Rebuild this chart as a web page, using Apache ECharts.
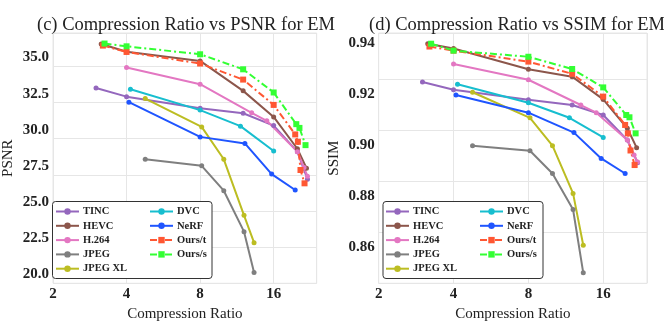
<!DOCTYPE html>
<html><head><meta charset="utf-8">
<script src="https://cdn.jsdelivr.net/npm/echarts@6/dist/echarts.min.js"></script>
<style>html,body{margin:0;padding:0;background:#fff}#c{width:664px;height:332px}</style>
</head><body><div id="c"></div>
<script>
// ---- data ----
const methods = ['TINC','HEVC','H.264','JPEG','JPEG XL','DVC','NeRF','Ours/t','Ours/s'];
const xTINC  = [3.0, 4.0, 8.0, 12.0, 16.0, 20.0, 22.0];
const pTINC  = [32.9, 32.3, 31.5, 31.15, 30.3, 28.5, 26.6];
const sTINC  = [0.9248, 0.9218, 0.9179, 0.9158, 0.9119, 0.9021, 0.8932];
const xHEVC  = [3.15, 4.0, 8.0, 12.0, 16.0, 20.0, 21.8];
const pHEVC  = [35.94, 35.4, 34.77, 32.7, 30.9, 28.7, 27.35];
const sHEVC  = [0.9398, 0.9379, 0.9298, 0.9269, 0.9180, 0.9067, 0.8991];
const xH264  = [4.0, 8.0, 13.0, 15.0, 20.0, 21.3, 22.0];
const pH264  = [34.31, 33.16, 31.18, 30.63, 28.5, 27.4, 26.8];
const sH264  = [0.9319, 0.9257, 0.9158, 0.9128, 0.9021, 0.8962, 0.8935];
const xJPEG  = [4.77, 8.12, 10.0, 12.1, 13.3];
const pJPEG  = [27.97, 27.52, 25.8, 22.97, 20.14];
const sJPEG  = [0.8999, 0.8979, 0.8890, 0.8749, 0.8501];
const xJXL   = [4.77, 8.12, 10.0, 12.1, 13.3];
const pJXL   = [32.17, 30.21, 27.97, 24.1, 22.21];
const sJXL   = [0.9208, 0.9108, 0.8999, 0.8812, 0.8609];
const xDVC   = [4.15, 8.0, 11.7, 16.0];
const pDVC   = [32.81, 31.37, 30.26, 28.54];
const sDVC   = [0.9239, 0.9167, 0.9108, 0.9031];
const xNeRF  = [4.09, 8.0, 12.2, 15.7, 19.6];
const pNeRF  = [31.92, 29.52, 29.07, 26.95, 25.85];
const sNeRF  = [0.9197, 0.9128, 0.9050, 0.8949, 0.8890];
const xOursT = [3.2, 4.0, 8.0, 12.0, 16.0, 19.6, 20.1, 20.6, 21.4];
const pOursT = [35.83, 35.39, 34.59, 33.48, 31.73, 29.69, 29.18, 27.23, 26.31];
const sOursT = [0.9387, 0.9371, 0.9328, 0.9280, 0.9191, 0.9080, 0.9047, 0.8980, 0.8923];
const xOursS = [3.25, 4.0, 8.0, 12.0, 16.0, 19.8, 20.4, 21.6];
const pOursS = [35.97, 35.78, 35.23, 34.19, 32.59, 30.4, 30.14, 28.95];
const sOursS = [0.9398, 0.9371, 0.9347, 0.9299, 0.9227, 0.9119, 0.9110, 0.9047];
const xTicks = [2, 4, 8, 16];
const psnrTicks = [20.0, 22.5, 25.0, 27.5, 30.0, 32.5, 35.0];
const ssimTicks = [0.86, 0.88, 0.90, 0.92, 0.94];

const X = [xTINC,xHEVC,xH264,xJPEG,xJXL,xDVC,xNeRF,xOursT,xOursS];
const P = [pTINC,pHEVC,pH264,pJPEG,pJXL,pDVC,pNeRF,pOursT,pOursS];
const S = [sTINC,sHEVC,sH264,sJPEG,sJXL,sDVC,sNeRF,sOursT,sOursS];
const colors = ['#9467bd','#8c564b','#e377c2','#7f7f7f','#bcbd22','#17becf','#1f55ff','#ff5733','#33ff33'];

const FONT = "'Liberation Serif','Times New Roman',serif";
const zip = (a,b)=>a.map((v,i)=>[v,b[i]]);

const series = [];
[0,1].forEach(g=>{
  methods.forEach((m,i)=>{
    const ours = i>=7;
    series.push({
      name:m, type:'line', xAxisIndex:g, yAxisIndex:g,
      data: zip(X[i], g===0?P[i]:S[i]),
      symbol: ours?'rect':'circle', symbolSize: ours?6:5,
      color: colors[i],
      lineStyle:{width:2, type: ours?[7,3,2,3]:'solid', color: colors[i]},
      itemStyle:{color: colors[i]},
      emphasis:{disabled:true}, animation:false
    });
  });
});

const grids = [
  {left:47.7, top:33, width:269, height:250.3},
  {left:378.7, top:33, width:268.3, height:250.3}
];
function xAx(g){
  return {type:'log', logBase:2, gridIndex:g, min:xTicks[0], max:24, interval:1,
    name:'Compression Ratio', nameLocation:'middle', nameGap:16,
    nameTextStyle:{fontFamily:FONT, fontSize:15, color:'#222'},
    axisLine:{show:false}, axisTick:{show:false},
    axisLabel:{fontFamily:FONT, fontSize:15, fontWeight:'bold', color:'#222', margin:3,
      formatter:v=>{const r=Math.round(v); return xTicks.indexOf(r)>=0 && Math.abs(v-r)<0.01 ? String(r) : '';}},
    splitLine:{show:true, lineStyle:{color:'#e6e6e6', width:1}},
    minorSplitLine:{show:false}};
}
function yAx(g, min, max, interval, name, ticks, dec){
  return {type:'value', gridIndex:g, min:min, max:max, interval:interval,
    name:name, nameLocation:'middle', nameGap:37, nameRotate:90,
    nameTextStyle:{fontFamily:FONT, fontSize:15, color:'#222'},
    axisLine:{show:false}, axisTick:{show:false},
    axisLabel:{fontFamily:FONT, fontSize:15, fontWeight:'bold', color:'#222', margin:4,
      customValues: ticks, formatter:v=>v.toFixed(dec)},
    splitLine:{show:true, lineStyle:{color:'#e6e6e6', width:1}}};
}

function legendCol(left, names){
  return {left:left, top:206, orient:'vertical', data:names, itemWidth:23, itemHeight:8,
    itemGap:3.3, padding:0, selectedMode:false, z:10,
    textStyle:{fontFamily:FONT, fontSize:10.5, fontWeight:'bold', color:'#222', padding:[0,0,0,-1]}};
}

const option = {
  animation:false,
  backgroundColor:'#fff',
  title:[
    {text:'(c) Compression Ratio vs PSNR for EM', left:181, top:11, textAlign:'center',
     textStyle:{fontFamily:FONT, fontSize:18.5, fontWeight:'normal', color:'#222'}},
    {text:'(d) Compression Ratio vs SSIM for EM', left:512, top:11, textAlign:'center',
     textStyle:{fontFamily:FONT, fontSize:18.5, fontWeight:'normal', color:'#222'}}
  ],
  grid: grids.map(g=>Object.assign({show:true, borderColor:'#e6e6e6', borderWidth:1, backgroundColor:'#fff'}, g)),
  xAxis:[xAx(0), xAx(1)],
  yAxis:[yAx(0, 19.4, 36.7, 2.5, 'PSNR', psnrTicks, 1), yAx(1, 0.846, 0.944, 0.02, 'SSIM', ssimTicks, 2)],
  legend:[
    legendCol(55, methods.slice(0,5)), legendCol(149, methods.slice(5)),
    legendCol(385, methods.slice(0,5)), legendCol(479, methods.slice(5))
  ],
  graphic:[
    {type:'rect', z:8, shape:{x:52.5, y:201.5, width:159.5, height:77, r:3}, style:{fill:'#fff', stroke:'#333', lineWidth:1}},
    {type:'rect', z:8, shape:{x:383, y:201.5, width:160, height:77, r:3}, style:{fill:'#fff', stroke:'#333', lineWidth:1}}
  ],
  series: series
};
const chart = echarts.init(document.getElementById('c'), null, {renderer:'canvas'});
chart.setOption(option);
</script></body></html>
